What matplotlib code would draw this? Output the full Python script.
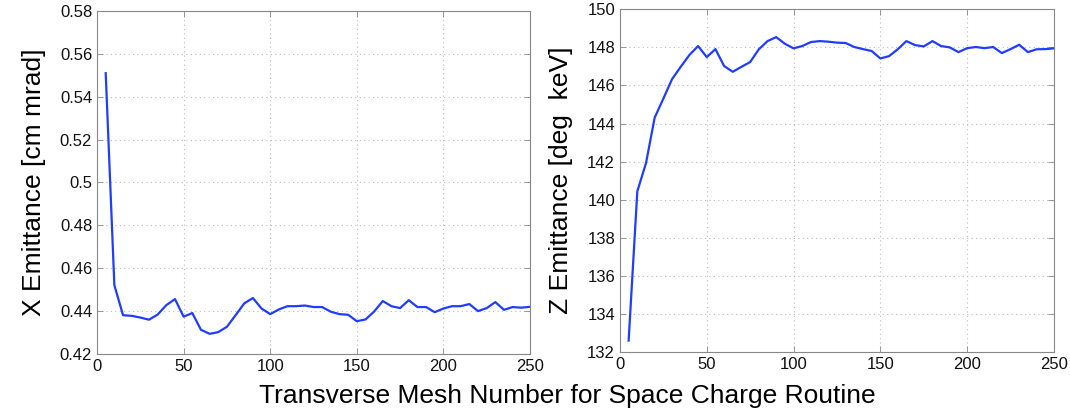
import numpy as np
import matplotlib
matplotlib.use("Agg")
import matplotlib.pyplot as plt

plt.rcParams['font.family'] = ['Liberation Sans', 'DejaVu Sans']

# mesh numbers used in the space-charge scan
mesh = list(range(5, 255, 5))

x_emit = [0.551, 0.4521, 0.4381, 0.4378, 0.4370, 0.4360, 0.4384, 0.4428, 0.4456, 0.4374,
          0.4391, 0.4313, 0.4294, 0.4302, 0.4327, 0.4381, 0.4436, 0.4461, 0.4412, 0.4386,
          0.4408, 0.4423, 0.4423, 0.4426, 0.4419, 0.4419, 0.4397, 0.4386, 0.4383, 0.4353,
          0.4361, 0.4398, 0.4447, 0.4423, 0.4414, 0.4451, 0.4419, 0.4419, 0.4395, 0.4412,
          0.4423, 0.4423, 0.4433, 0.4400, 0.4414, 0.4442, 0.4406, 0.4419, 0.4416, 0.4420]

z_emit = [132.6, 140.44, 141.92, 144.31, 145.31, 146.33, 146.98, 147.60, 148.07, 147.49,
          147.91, 147.02, 146.72, 146.98, 147.23, 147.90, 148.33, 148.54, 148.19, 147.95,
          148.07, 148.28, 148.33, 148.30, 148.25, 148.23, 148.02, 147.91, 147.81, 147.42,
          147.54, 147.90, 148.33, 148.12, 148.05, 148.33, 148.07, 148.00, 147.75, 147.96,
          148.02, 147.96, 148.02, 147.70, 147.91, 148.14, 147.75, 147.90, 147.91, 147.95]

x_ticks = [0, 50, 100, 150, 200, 250]
x_yticks = [0.42, 0.44, 0.46, 0.48, 0.5, 0.52, 0.54, 0.56, 0.58]
x_yticklabels = ['0.42', '0.44', '0.46', '0.48', '0.5', '0.52', '0.54', '0.56', '0.58']
z_yticks = list(range(132, 152, 2))

line_color = '#1f3cff'

fig = plt.figure(figsize=(10.7, 4.12), dpi=100)
ax1 = fig.add_axes([0.0907, 0.1408, 0.4046, 0.8325])
ax2 = fig.add_axes([0.5794, 0.1456, 0.4056, 0.8318])


def style(ax):
    ax.grid(True, linestyle=(0, (1, 3)), color='#bbbbbb', linewidth=0.8)
    for s in ax.spines.values():
        s.set_color('#888888')
        s.set_linewidth(0.8)
    ax.tick_params(direction='in', length=4, width=0.6, color='#888888',
                   labelsize=12, labelcolor='#111111', top=True, right=True,
                   labeltop=False, labelright=False)
    ax.set_axisbelow(True)


ax1.plot(mesh, x_emit, color=line_color, linewidth=1.6)
ax1.set_xlim(0, 250)
ax1.set_ylim(0.42, 0.58)
ax1.set_xticks(x_ticks)
ax1.set_yticks(x_yticks)
ax1.set_yticklabels(x_yticklabels)
ax1.set_ylabel('X Emittance [cm mrad]', fontsize=19, labelpad=10)
style(ax1)

ax2.plot(mesh, z_emit, color=line_color, linewidth=1.6)
ax2.set_xlim(0, 250)
ax2.set_ylim(132, 150)
ax2.set_xticks(x_ticks)
ax2.set_yticks(z_yticks)
ax2.set_ylabel('Z Emittance [deg  keV]', fontsize=19, labelpad=10)
style(ax2)

fig.text(0.53, 0.04, 'Transverse Mesh Number for Space Charge Routine',
         ha='center', va='center', fontsize=19)

fig.savefig('out.png', dpi=100)
